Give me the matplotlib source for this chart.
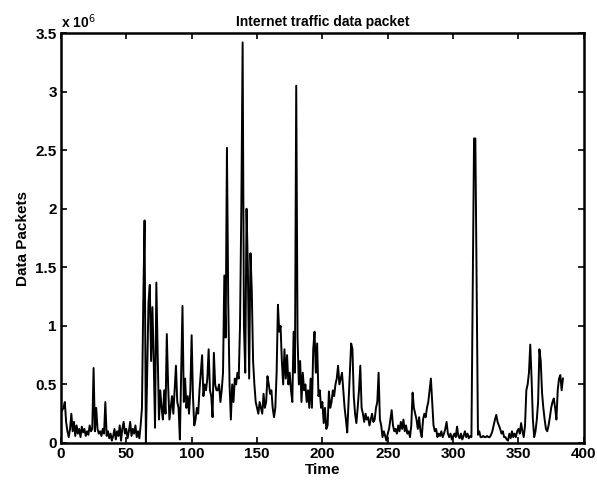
import matplotlib
matplotlib.use("Agg")
import matplotlib.pyplot as plt
import numpy as np

# Data packets (in units of 10^6) per time step
packets = [
    0.28, 0.30, 0.35, 0.18, 0.10, 0.05, 0.12, 0.25, 0.10, 0.18,
    0.06, 0.15, 0.08, 0.12, 0.05, 0.14, 0.09, 0.12, 0.06, 0.10,
    0.07, 0.15, 0.10, 0.12, 0.64, 0.10, 0.30, 0.12, 0.08, 0.10,
    0.06, 0.12, 0.08, 0.35, 0.06, 0.10, 0.04, 0.08, 0.02, 0.06,
    0.12, 0.03, 0.10, 0.06, 0.15, 0.02, 0.12, 0.18, 0.08, 0.12,
    0.04, 0.10, 0.18, 0.06, 0.12, 0.08, 0.15, 0.05, 0.10, 0.04,
    0.15, 0.30, 1.20, 1.90, 0.00, 0.60, 1.20, 1.35, 0.70, 1.16,
    0.70, 0.13, 1.37, 0.80, 0.20, 0.45, 0.30, 0.20, 0.45, 0.25,
    0.93, 0.50, 0.20, 0.30, 0.40, 0.25, 0.45, 0.66, 0.35, 0.30,
    0.03, 0.60, 1.17, 0.35, 0.55, 0.30, 0.40, 0.25, 0.45, 0.92,
    0.40, 0.15, 0.20, 0.30, 0.25, 0.45, 0.60, 0.75, 0.40, 0.50,
    0.45, 0.55, 0.80, 0.45, 0.40, 0.22, 0.77, 0.50, 0.45, 0.45,
    0.50, 0.35, 0.45, 0.60, 1.43, 0.90, 2.52, 1.20, 0.50, 0.20,
    0.50, 0.35, 0.55, 0.50, 0.60, 0.55, 1.00, 2.00, 3.42, 1.00,
    0.60, 2.00, 1.50, 0.55, 1.62, 1.30, 0.70, 0.50, 0.35, 0.30,
    0.25, 0.35, 0.30, 0.25, 0.42, 0.30, 0.35, 0.57, 0.50, 0.42,
    0.45, 0.30, 0.22, 0.30, 0.60, 1.18, 0.95, 1.00, 0.70, 0.50,
    0.80, 0.55, 0.75, 0.50, 0.60, 0.45, 0.35, 0.95, 0.60, 3.05,
    0.90, 0.50, 0.70, 0.35, 0.60, 0.45, 0.50, 0.35, 0.45, 0.30,
    0.55, 0.30, 0.80, 0.95, 0.60, 0.85, 0.40, 0.45, 0.30, 0.35,
    0.17, 0.30, 0.12, 0.15, 0.44, 0.30, 0.35, 0.45, 0.40, 0.50,
    0.55, 0.66, 0.50, 0.55, 0.60, 0.45, 0.30, 0.20, 0.09, 0.35,
    0.60, 0.85, 0.80, 0.40, 0.25, 0.17, 0.30, 0.45, 0.66, 0.30,
    0.25, 0.18, 0.25, 0.20, 0.22, 0.15, 0.20, 0.25, 0.18, 0.20,
    0.30, 0.35, 0.60, 0.20, 0.15, 0.05, 0.10, 0.06, 0.02, 0.08,
    0.12, 0.20, 0.28, 0.15, 0.10, 0.12, 0.08, 0.15, 0.10, 0.18,
    0.12, 0.20, 0.10, 0.15, 0.08, 0.10, 0.05, 0.15, 0.43, 0.30,
    0.25, 0.20, 0.12, 0.22, 0.10, 0.05, 0.20, 0.25, 0.22, 0.30,
    0.35, 0.45, 0.55, 0.35, 0.15, 0.10, 0.12, 0.05, 0.08, 0.06,
    0.10, 0.05, 0.08, 0.12, 0.18, 0.08, 0.05, 0.08, 0.03, 0.06,
    0.08, 0.05, 0.14, 0.06, 0.04, 0.08, 0.03, 0.06, 0.10, 0.05,
    0.08, 0.04, 0.06, 0.05, 1.33, 2.60, 2.60, 1.33, 0.07, 0.10,
    0.05, 0.05, 0.06, 0.05, 0.05, 0.06, 0.05, 0.05, 0.07, 0.10,
    0.15, 0.20, 0.24, 0.18, 0.15, 0.12, 0.08, 0.10, 0.05, 0.05,
    0.03, 0.02, 0.08, 0.04, 0.10, 0.05, 0.08, 0.05, 0.10, 0.12,
    0.08, 0.17, 0.10, 0.05, 0.15, 0.45, 0.50, 0.60, 0.84, 0.55,
    0.20, 0.05, 0.10, 0.20, 0.35, 0.80, 0.70, 0.43, 0.30, 0.20,
    0.12, 0.10, 0.15, 0.22, 0.30, 0.35, 0.38, 0.30, 0.20, 0.45,
    0.55, 0.58, 0.45, 0.55,
]
time = np.arange(1, len(packets) + 1)

x_ticks = [0, 50, 100, 150, 200, 250, 300, 350, 400]
y_ticks = [0, 0.5, 1, 1.5, 2, 2.5, 3, 3.5]
y_tick_labels = ["0", "0.5", "1", "1.5", "2", "2.5", "3", "3.5"]

plt.rcParams['font.family'] = ['Liberation Sans', 'DejaVu Sans']

fig = plt.figure(figsize=(5.97, 4.86), dpi=100)
ax = fig.add_axes([0.102, 0.0885, 0.876, 0.8435])
ax.plot(time, packets, color='black', linewidth=1.4)
ax.set_xlim(0, 400)
ax.set_ylim(0, 3.5)
ax.set_xticks(x_ticks)
ax.set_yticks(y_ticks)
ax.set_yticklabels(y_tick_labels)
ax.tick_params(direction='in', length=4, width=1.2, labelsize=11, pad=3,
               top=True, right=True)
for lbl in ax.get_xticklabels() + ax.get_yticklabels():
    lbl.set_fontweight('bold')
for sp in ax.spines.values():
    sp.set_linewidth(1.8)

ax.set_title("Internet traffic data packet", fontsize=10, fontweight='bold', pad=5)
ax.set_xlabel("Time", fontsize=11, fontweight='bold', labelpad=1)
ax.set_ylabel("Data Packets", fontsize=11, fontweight='bold', labelpad=4)
ax.text(0.0, 1.005, r"x 10$^6$", transform=ax.transAxes, fontsize=10,
        fontweight='bold', ha='left', va='bottom')

fig.savefig("out.png", dpi=100)
